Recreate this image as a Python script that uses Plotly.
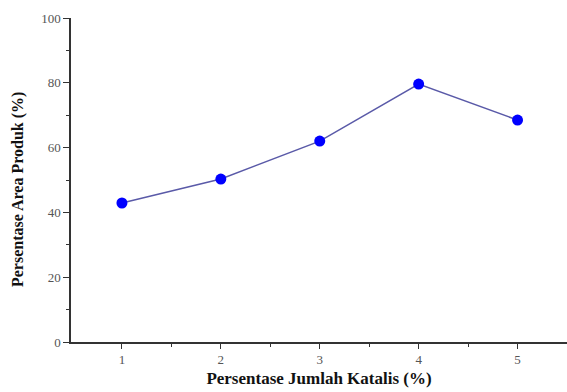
import plotly.graph_objects as go

# Catalyst loading (%) vs. product area (%)
katalis = [1, 2, 3, 4, 5]
area_produk = [42.9, 50.3, 62.0, 79.6, 68.5]
x_ticks = [1, 2, 3, 4, 5]
y_ticks = [0, 20, 40, 60, 80, 100]

fig = go.Figure()
fig.add_trace(go.Scatter(
    x=katalis, y=area_produk, mode="lines+markers",
    line=dict(color="#5a5aa8", width=1.5),
    marker=dict(color="#0000ff", size=11, line=dict(width=0)),
    showlegend=False,
))

tick_font = dict(family="Liberation Serif", size=13, color="#555555")

fig.update_xaxes(
    range=[0.485, 5.5], tickvals=x_ticks, ticktext=[str(v) for v in x_ticks],
    ticks="outside", ticklen=5, tickwidth=1.2, tickcolor="#333333",
    minor=dict(tickvals=[1.5, 2.5, 3.5, 4.5], ticks="outside", ticklen=3, tickcolor="#333333"),
    showline=True, linecolor="#333333", linewidth=1.5, showgrid=False, zeroline=False,
    tickfont=tick_font,
    title=dict(text="<b>Persentase Jumlah Katalis (%)</b>",
               font=dict(family="Liberation Serif", size=17, color="#111111"), standoff=6),
)
fig.update_yaxes(
    range=[0, 100], tickvals=y_ticks, ticktext=[str(v) for v in y_ticks],
    ticks="outside", ticklen=6, tickwidth=1.2, tickcolor="#333333",
    minor=dict(tickvals=[10, 30, 50, 70, 90], ticks="outside", ticklen=3, tickcolor="#333333"),
    showline=True, linecolor="#333333", linewidth=1.5, showgrid=False, zeroline=False,
    tickfont=tick_font,
)

# Y-axis title placed as a rotated annotation, sitting slightly below centre
fig.add_annotation(
    text="<b>Persentase Area Produk (%)</b>",
    xref="paper", yref="paper", x=-0.107, y=0.472,
    xanchor="center", yanchor="middle", textangle=-90, showarrow=False,
    font=dict(family="Liberation Serif", size=16, color="#111111"),
)

fig.update_layout(
    width=567, height=392,
    margin=dict(l=71, r=0, t=18, b=50),
    plot_bgcolor="white", paper_bgcolor="white",
)

fig.write_html("out.html")
